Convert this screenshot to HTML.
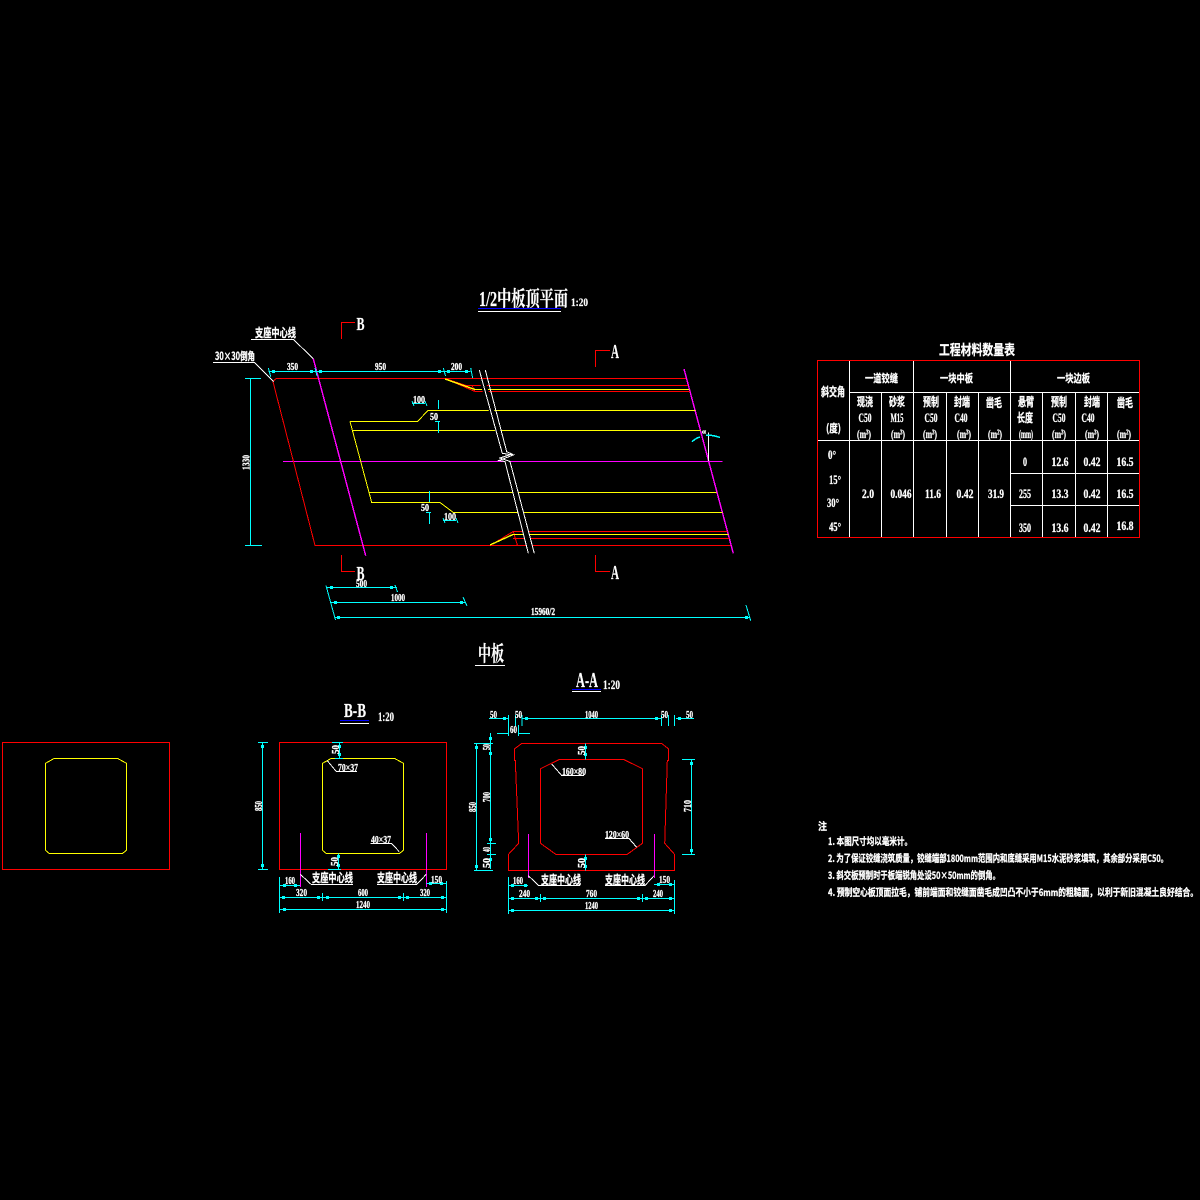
<!DOCTYPE html>
<html><head><meta charset="utf-8"><style>
html,body{margin:0;padding:0;background:#000}
svg{display:block}
text{fill:#fff;stroke:#fff;stroke-width:.3;font-family:"Liberation Serif","Noto Sans CJK SC",serif;font-weight:bold}
.s{font-family:"Liberation Serif","Noto Serif CJK SC",serif;font-weight:bold;stroke-width:.2}
.c{font-family:"Noto Sans CJK SC","Liberation Sans",sans-serif;font-weight:bold}
.l{fill:none;shape-rendering:crispEdges;stroke-width:1}
.r{stroke:#f00}.y{stroke:#ff0}.m{stroke:#f0f}.w{stroke:#fff}.b{stroke:#00f}.k{stroke:#0ff}
.a{fill:none;stroke-width:1;shape-rendering:crispEdges}
</style></head><body>
<svg width="1200" height="1200" viewBox="0 0 1200 1200" xmlns="http://www.w3.org/2000/svg">
<rect width="1200" height="1200" fill="#000"/>

<!-- plan: center line and outlines -->
<path class="a m" d="M283 461.5H722.5"/>
<path class="a r" d="M276 378.5H686.5M276 378.5L273 381.7L315 545.5H731"/>
<path class="a m" d="M313.3 358.7L365.7 555.7M684 369L733.3 553.3" style="stroke-width:1.4"/>
<path class="a y" d="M350 421.5H417.5L428 410.5H695.5M350 421.5L371.7 502.5H440L453.3 512.5H722.5M352.3 430.5H700.5M369 492.5H716.5"/>
<path class="a r" d="M445 378.5L475 391.5H690M445 378.5L466 385.5H688M466 385.5L472 385.5L475 391.5"/>
<path class="a y" d="M445 379L475 389.5H689" style="stroke-width:1.4"/>
<path class="a r" d="M490 545.5L513.3 531.5H727.5M513.3 531.5L517.5 545.5M513 538.5H729.5"/>
<path class="a y" d="M490 545L513 534.5H728.5" style="stroke-width:1.4"/>
<!-- break lines -->
<polygon points="480,383 486,383 506.7,451.7 510,461.5 534.3,553 528.3,553 505,461.5 502.3,453.3" fill="#000" stroke="none"/>
<path class="a w" d="M479.3 370L502.3 453.3L513.3 455L499 460.5L505 461.5L528.3 553.3M485.3 370L506.7 451.7L512 454L500 458L510 461.5L534.3 553.3"/>

<!-- section marks -->
<path class="l r" d="M341.5 339V322.5H355M341.5 555V571.5H355M595.5 367V350.5H610M595.5 555V571.5H610"/>
<text class="s" x="356.5" y="330" font-size="18" textLength="8" lengthAdjust="spacingAndGlyphs">B</text>
<text class="s" x="356.5" y="580" font-size="20" textLength="8" lengthAdjust="spacingAndGlyphs">B</text>
<text class="s" x="611" y="358" font-size="20" textLength="8" lengthAdjust="spacingAndGlyphs">A</text>
<text class="s" x="611" y="579" font-size="20" textLength="8" lengthAdjust="spacingAndGlyphs">A</text>

<!-- titles -->
<text class="s" x="479" y="306" font-size="21" textLength="89" lengthAdjust="spacingAndGlyphs">1/2中板顶平面</text>
<text class="s" x="571" y="306" font-size="12" textLength="17" lengthAdjust="spacingAndGlyphs">1:20</text>
<path class="l b" d="M478 308.5H561"/><path class="l w" d="M478 311.5H561"/>
<text class="s" x="478" y="661" font-size="21" textLength="26" lengthAdjust="spacingAndGlyphs">中板</text>
<path class="l w" d="M475 665.5H505"/>
<text class="s" x="576" y="687" font-size="21" textLength="22" lengthAdjust="spacingAndGlyphs">A-A</text>
<text class="s" x="603" y="689" font-size="13" textLength="17" lengthAdjust="spacingAndGlyphs">1:20</text>
<path class="l b" d="M572 689.5H601"/><path class="l w" d="M572 691.5H601"/>
<text class="s" x="344" y="717" font-size="20" textLength="22" lengthAdjust="spacingAndGlyphs">B-B</text>
<text class="s" x="378" y="721" font-size="13" textLength="16" lengthAdjust="spacingAndGlyphs">1:20</text>
<path class="l b" d="M340 720.5H369"/><path class="l w" d="M340 723.5H369"/>

<!-- plan labels -->
<text class="c" x="255" y="337" font-size="12" textLength="41" lengthAdjust="spacingAndGlyphs">支座中心线</text>
<path class="a w" d="M251 339.5H293.5L313.3 358.7"/>
<text class="c" x="215" y="360" font-size="11" textLength="40" lengthAdjust="spacingAndGlyphs">30×30倒角</text>
<path class="a w" d="M213 362.5H254.7L273.5 381.7"/>

<!-- plan dims -->
<path class="a k" d="M268.5 371.5H470.5M268.3 368L270.7 376.7M315 368L317 376M443.3 368L445.5 376M470.7 368L472.7 378"/>
<path class="l k" d="M250.5 378.5V545.5M245 378.5H261M245 545.5H262"/>
<path class="l k" style="stroke-width:3" d="M272 371.5h3M310 371.5h3M319 371.5h3M438 371.5h3M447 371.5h3M465 371.5h3"/>
<text x="287" y="370" font-size="10" textLength="11" lengthAdjust="spacingAndGlyphs">350</text>
<text x="375" y="370" font-size="10" textLength="11" lengthAdjust="spacingAndGlyphs">950</text>
<text x="451" y="370" font-size="10" textLength="11" lengthAdjust="spacingAndGlyphs">200</text>
<text transform="translate(249.5,470) rotate(-90)" font-size="10" textLength="15" lengthAdjust="spacingAndGlyphs">1330</text>
<path class="a k" d="M412 403.5H425M412 401L414 406M425 401L427 406"/>
<text x="413" y="403" font-size="11" textLength="12" lengthAdjust="spacingAndGlyphs">100</text>
<path class="l k" d="M438.5 400V409M435 421.5H440M438.5 421.5V433"/>
<text x="430" y="420" font-size="10" textLength="8" lengthAdjust="spacingAndGlyphs">50</text>
<path class="l k" d="M429.5 491V502M426 512.5H431M429.5 512.5V524"/>
<text x="421" y="511" font-size="10" textLength="8" lengthAdjust="spacingAndGlyphs">50</text>
<path class="a k" d="M443 520.5H456M443 518L445 523M456 518L458 523"/>
<text x="444" y="520" font-size="11" textLength="12" lengthAdjust="spacingAndGlyphs">100</text>
<path class="a w" d="M708.5 432.3V461"/>
<path class="a k" d="M692 441.7Q696 438 700 437M706 435Q713 435 720 437.5" style="stroke-width:1.5"/>
<text x="702" y="433.5" font-size="6" textLength="4" lengthAdjust="spacingAndGlyphs">α</text>

<!-- lower plan dims -->
<path class="a k" d="M326 585.5L335.5 620M326 587.5H397M395 585L397.5 592M330 602.5H466M463 597L467 606M335 617.5H750M746 605L750.7 620.7"/>
<path class="l k" style="stroke-width:3" d="M330 587.5h3M390 587.5h3M334 602.5h3M460 602.5h3M337 617.5h3M745 617.5h3"/>
<text x="356" y="587" font-size="11" textLength="11" lengthAdjust="spacingAndGlyphs">500</text>
<text x="391" y="601" font-size="11" textLength="14" lengthAdjust="spacingAndGlyphs">1000</text>
<text x="531" y="615" font-size="10" textLength="24" lengthAdjust="spacingAndGlyphs">15960/2</text>

<!-- table -->
<text class="c" x="939" y="355" font-size="14" textLength="76" lengthAdjust="spacingAndGlyphs">工程材料数量表</text>
<path class="l w" d="M849.5 360V537M881.5 392V537M913.5 360V537M946.5 392V537M978.5 392V537M1010.5 360V537M1042.5 392V537M1075.5 392V537M1107.5 392V537M849.5 392.5H1139M818 440.5H1139M1010.5 473.5H1139M1010.5 505.5H1139"/>
<rect class="l r" x="817.5" y="360.5" width="322" height="177"/>
<text class="c" x="821" y="396" font-size="12" textLength="24" lengthAdjust="spacingAndGlyphs">斜交角</text>
<text class="c" x="826" y="432" font-size="11" textLength="15" lengthAdjust="spacingAndGlyphs">(度)</text>
<text class="c" x="865" y="382" font-size="11" textLength="33" lengthAdjust="spacingAndGlyphs">一道铰缝</text>
<text class="c" x="940" y="382" font-size="11" textLength="33" lengthAdjust="spacingAndGlyphs">一块中板</text>
<text class="c" x="1057" y="382" font-size="11" textLength="33" lengthAdjust="spacingAndGlyphs">一块边板</text>
<g text-anchor="middle" lengthAdjust="spacingAndGlyphs">
<text class="c" x="865" y="406" font-size="12" textLength="16" lengthAdjust="spacingAndGlyphs">现浇</text><text x="865" y="422" font-size="13" textLength="13" lengthAdjust="spacingAndGlyphs">C50</text><text x="864" y="438" font-size="12" textLength="14" lengthAdjust="spacingAndGlyphs">(m³)</text>
<text class="c" x="897" y="406" font-size="12" textLength="16" lengthAdjust="spacingAndGlyphs">砂浆</text><text x="897" y="422" font-size="13" textLength="13" lengthAdjust="spacingAndGlyphs">M15</text><text x="898" y="438" font-size="12" textLength="14" lengthAdjust="spacingAndGlyphs">(m³)</text>
<text class="c" x="931" y="406" font-size="12" textLength="16" lengthAdjust="spacingAndGlyphs">预制</text><text x="931" y="422" font-size="13" textLength="13" lengthAdjust="spacingAndGlyphs">C50</text><text x="930" y="438" font-size="12" textLength="14" lengthAdjust="spacingAndGlyphs">(m³)</text>
<text class="c" x="962" y="406" font-size="12" textLength="16" lengthAdjust="spacingAndGlyphs">封端</text><text x="961" y="422" font-size="13" textLength="13" lengthAdjust="spacingAndGlyphs">C40</text><text x="964" y="438" font-size="12" textLength="14" lengthAdjust="spacingAndGlyphs">(m³)</text>
<text class="c" x="994" y="407" font-size="12" textLength="16" lengthAdjust="spacingAndGlyphs">凿毛</text><text x="995" y="438" font-size="12" textLength="14" lengthAdjust="spacingAndGlyphs">(m²)</text>
<text class="c" x="1026" y="406" font-size="12" textLength="16" lengthAdjust="spacingAndGlyphs">悬臂</text><text class="c" x="1025" y="422" font-size="12" textLength="16" lengthAdjust="spacingAndGlyphs">长度</text><text x="1026" y="438" font-size="12" textLength="14" lengthAdjust="spacingAndGlyphs">(mm)</text>
<text class="c" x="1059" y="406" font-size="12" textLength="16" lengthAdjust="spacingAndGlyphs">预制</text><text x="1059" y="422" font-size="13" textLength="13" lengthAdjust="spacingAndGlyphs">C50</text><text x="1059" y="438" font-size="12" textLength="14" lengthAdjust="spacingAndGlyphs">(m³)</text>
<text class="c" x="1092" y="406" font-size="12" textLength="16" lengthAdjust="spacingAndGlyphs">封端</text><text x="1088" y="422" font-size="13" textLength="13" lengthAdjust="spacingAndGlyphs">C40</text><text x="1092" y="438" font-size="12" textLength="14" lengthAdjust="spacingAndGlyphs">(m³)</text>
<text class="c" x="1125" y="407" font-size="12" textLength="16" lengthAdjust="spacingAndGlyphs">凿毛</text><text x="1124" y="438" font-size="12" textLength="14" lengthAdjust="spacingAndGlyphs">(m²)</text>
<g font-size="13">
<text x="832" y="459" textLength="8" lengthAdjust="spacingAndGlyphs">0°</text><text x="835" y="484" textLength="12" lengthAdjust="spacingAndGlyphs">15°</text><text x="833" y="507" textLength="12" lengthAdjust="spacingAndGlyphs">30°</text><text x="835" y="531" textLength="12" lengthAdjust="spacingAndGlyphs">45°</text>
<text x="868" y="498" textLength="12" lengthAdjust="spacingAndGlyphs">2.0</text><text x="901" y="498" textLength="21" lengthAdjust="spacingAndGlyphs">0.046</text><text x="933" y="498" textLength="16" lengthAdjust="spacingAndGlyphs">11.6</text><text x="965" y="498" textLength="17" lengthAdjust="spacingAndGlyphs">0.42</text><text x="996" y="498" textLength="16" lengthAdjust="spacingAndGlyphs">31.9</text>
<text x="1025" y="466" textLength="4" lengthAdjust="spacingAndGlyphs">0</text><text x="1060" y="466" textLength="17" lengthAdjust="spacingAndGlyphs">12.6</text><text x="1092" y="466" textLength="17" lengthAdjust="spacingAndGlyphs">0.42</text><text x="1125" y="466" textLength="17" lengthAdjust="spacingAndGlyphs">16.5</text>
<text x="1025" y="498" textLength="12" lengthAdjust="spacingAndGlyphs">255</text><text x="1060" y="498" textLength="17" lengthAdjust="spacingAndGlyphs">13.3</text><text x="1092" y="498" textLength="17" lengthAdjust="spacingAndGlyphs">0.42</text><text x="1125" y="498" textLength="17" lengthAdjust="spacingAndGlyphs">16.5</text>
<text x="1025" y="532" textLength="12" lengthAdjust="spacingAndGlyphs">350</text><text x="1060" y="532" textLength="17" lengthAdjust="spacingAndGlyphs">13.6</text><text x="1092" y="532" textLength="17" lengthAdjust="spacingAndGlyphs">0.42</text><text x="1125" y="530" textLength="17" lengthAdjust="spacingAndGlyphs">16.8</text>
</g></g>

<!-- left box -->
<rect class="l r" x="2.5" y="742.5" width="167" height="127"/>
<path class="a y" d="M54 758.5H117.7L126.5 763.3V850.3L122.3 853.5H49.3L45.5 850.3V763.3Z"/>

<!-- B-B -->
<rect class="l r" x="279.5" y="742.5" width="167" height="127"/>
<path class="a y" d="M331 758.5H394.7L403.5 763.3V850.3L399.3 853.5H326.3L322.5 850.3V763.3Z"/>
<path class="l m" d="M300.5 833V887M426.5 833V887"/>
<path class="l k" d="M262.5 742.5V869.5M258 742.5H268M258 869.5H268M339.5 742.5V758.5M332 742.5H343M335 758.5H343M338.5 853.5V869.5M328 869.5H341"/>
<path class="l k" style="stroke-width:3" d="M262.5 745v3M262.5 864v3M339.5 745v3M339.5 753v3M338.5 855v3M338.5 864v3"/>
<text transform="translate(262,811) rotate(-90)" font-size="11" textLength="10" lengthAdjust="spacingAndGlyphs">850</text>
<text transform="translate(339,754) rotate(-90)" font-size="10" textLength="9" lengthAdjust="spacingAndGlyphs">50</text>
<text transform="translate(338,866) rotate(-90)" font-size="10" textLength="9" lengthAdjust="spacingAndGlyphs">50</text>
<text x="338" y="771" font-size="11" textLength="20" lengthAdjust="spacingAndGlyphs">70×37</text>
<path class="a w" d="M327.3 760.7L336.3 771.5H357M370.7 843.5H391.7L399.3 851.7"/>
<text x="371" y="843" font-size="11" textLength="20" lengthAdjust="spacingAndGlyphs">40×37</text>
<text class="c" x="312" y="882" font-size="12" textLength="41" lengthAdjust="spacingAndGlyphs">支座中心线</text>
<text class="c" x="377" y="882" font-size="12" textLength="40" lengthAdjust="spacingAndGlyphs">支座中心线</text>
<path class="a w" d="M300.3 874.3L311.3 884.5H353M377 884.5H416.7L426.3 874.3"/>
<path class="l k" d="M279.5 877V913M446.5 881V913M279.5 885.5H300M426.5 883.5H446.5M279.5 897.5H446.5M322.5 893V901M403.5 893V901M279.5 909.5H446.5"/>
<path class="l k" style="stroke-width:3" d="M283 885.5h3M294 885.5h3M429 883.5h3M440 883.5h3M282 897.5h3M317 897.5h3M326 897.5h3M398 897.5h3M406 897.5h3M441 897.5h3M283 909.5h3M441 909.5h3"/>
<text x="285" y="884" font-size="11" textLength="10" lengthAdjust="spacingAndGlyphs">160</text>
<text x="431" y="883" font-size="11" textLength="11" lengthAdjust="spacingAndGlyphs">150</text>
<text x="296" y="896" font-size="11" textLength="11" lengthAdjust="spacingAndGlyphs">320</text>
<text x="358" y="896" font-size="11" textLength="10" lengthAdjust="spacingAndGlyphs">600</text>
<text x="420" y="896" font-size="11" textLength="10" lengthAdjust="spacingAndGlyphs">320</text>
<text x="356" y="908" font-size="11" textLength="14" lengthAdjust="spacingAndGlyphs">1240</text>

<!-- A-A -->
<path class="a r" d="M521.7 743.5H661.7L668.7 749V760.7H667.3L664.7 843.3L674.5 854.3V870.5H508.5V854.3L518.7 843.3L515.3 760.7H514.3V749Z"/>
<path class="a r" d="M559.3 759.5H623.7L642.5 768.7V843.3L627 854.5H556L540.5 843.3V768.7Z"/>
<path class="l m" d="M528.5 834V878M654.5 834V878"/>
<path class="l k" d="M476.5 743.5V870.5M474 743.5H493M474 870.5H493M490.5 733V869M487 843.5H496M487 854.5H496M691.5 759.5V854.5M682 759.5H695M682 854.5H695M489 718.5H508M522 718.5H662M676 718.5H694M508.5 715V726M515.5 715V726M522 715V726M661.5 715V726M668.5 715V726M674.5 715V726M497 733.5H508M518 733.5H530M508.5 725V736M518.5 725V736M585.5 743.5V759.5M585.5 854.5V870.5"/>
<path class="l k" style="stroke-width:3" d="M503 718.5h3M525 718.5h3M655 718.5h3M678 718.5h3M490.5 737v3M490.5 752v3M490.5 838v3M490.5 858v3M691.5 762v3M691.5 849v3M476.5 746v3M476.5 865v3M585.5 746v3M585.5 753v3M585.5 857v3M585.5 865v3"/>
<g font-size="11">
<text x="490" y="718" textLength="7" lengthAdjust="spacingAndGlyphs">50</text>
<text x="515" y="718" textLength="7" lengthAdjust="spacingAndGlyphs">50</text>
<text x="585" y="718" textLength="13" lengthAdjust="spacingAndGlyphs">1040</text>
<text x="661" y="718" textLength="7" lengthAdjust="spacingAndGlyphs">50</text>
<text x="686" y="718" textLength="7" lengthAdjust="spacingAndGlyphs">50</text>
<text x="510" y="733" textLength="7" lengthAdjust="spacingAndGlyphs">60</text>
<text transform="translate(476,812) rotate(-90)" textLength="10" lengthAdjust="spacingAndGlyphs">850</text>
<text transform="translate(490,750) rotate(-90)" textLength="6" lengthAdjust="spacingAndGlyphs">50</text>
<text transform="translate(490,802) rotate(-90)" textLength="10" lengthAdjust="spacingAndGlyphs">700</text>
<text transform="translate(490,852) rotate(-90)" textLength="5" lengthAdjust="spacingAndGlyphs">40</text>
<text transform="translate(490,868) rotate(-90)" textLength="10" lengthAdjust="spacingAndGlyphs">50</text>
<text transform="translate(691,812) rotate(-90)" textLength="12" lengthAdjust="spacingAndGlyphs">710</text>
<text transform="translate(585,755) rotate(-90)" textLength="9" lengthAdjust="spacingAndGlyphs">50</text>
<text transform="translate(585,868) rotate(-90)" textLength="10" lengthAdjust="spacingAndGlyphs">50</text>
<text x="562" y="775" textLength="24" lengthAdjust="spacingAndGlyphs">160×80</text>
<text x="605" y="838" textLength="24" lengthAdjust="spacingAndGlyphs">120×60</text>
<text x="513" y="884" textLength="10" lengthAdjust="spacingAndGlyphs">160</text>
<text x="659" y="883" textLength="11" lengthAdjust="spacingAndGlyphs">150</text>
<text x="519" y="897" textLength="11" lengthAdjust="spacingAndGlyphs">240</text>
<text x="586" y="897" textLength="11" lengthAdjust="spacingAndGlyphs">760</text>
<text x="653" y="897" textLength="10" lengthAdjust="spacingAndGlyphs">240</text>
<text x="585" y="909" textLength="13" lengthAdjust="spacingAndGlyphs">1240</text>
</g>
<path class="a w" d="M551.7 764L561.7 775.5H584M605 838.5H629L636.7 847.3M528.3 875.7L538.7 885.5H580M605 885.5H645L654 875.7"/>
<text class="c" x="541" y="884" font-size="12" textLength="40" lengthAdjust="spacingAndGlyphs">支座中心线</text>
<text class="c" x="605" y="884" font-size="12" textLength="40" lengthAdjust="spacingAndGlyphs">支座中心线</text>
<path class="l k" d="M508.5 877V914M674.5 880V914M508.5 885.5H528M654 884.5H674.5M508.5 898.5H674.5M540.5 894V902M642.5 894V902M508.5 910.5H674.5"/>
<path class="l k" style="stroke-width:3" d="M511 885.5h3M524 885.5h3M657 884.5h3M669 884.5h3M511 898.5h3M535 898.5h3M543 898.5h3M637 898.5h3M645 898.5h3M669 898.5h3M511 910.5h3M669 910.5h3"/>

<!-- notes -->
<text class="c" x="818" y="830" font-size="10" textLength="9" lengthAdjust="spacingAndGlyphs">注</text>
<text class="c" x="828" y="845" font-size="10" textLength="84" lengthAdjust="spacingAndGlyphs">1. 本图尺寸均以毫米计。</text>
<text class="c" x="828" y="862" font-size="10" textLength="340" lengthAdjust="spacingAndGlyphs">2. 为了保证铰缝浇筑质量，铰缝端部1800mm范围内和底缝采用M15水泥砂浆填筑，其余部分采用C50。</text>
<text class="c" x="828" y="879" font-size="10" textLength="172" lengthAdjust="spacingAndGlyphs">3. 斜交板预制时于板端锐角处设50×50mm的倒角。</text>
<text class="c" x="828" y="896" font-size="10" textLength="370" lengthAdjust="spacingAndGlyphs">4. 预制空心板顶面拉毛，铺前端面和铰缝面凿毛成凹凸不小于6mm的粗糙面，以利于新旧混凝土良好结合。</text>
</svg>
</body></html>
